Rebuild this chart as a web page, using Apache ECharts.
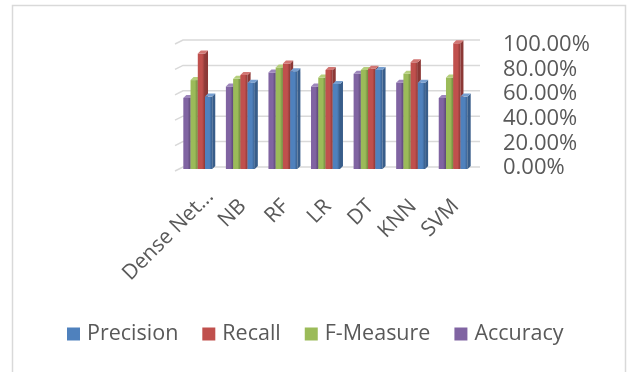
<!DOCTYPE html>
<html>
<head>
<meta charset="utf-8">
<script src="https://cdn.jsdelivr.net/npm/echarts@6/dist/echarts.min.js"></script>
<style>
  html, body { margin: 0; padding: 0; background: #fff; }
  #chart { width: 627px; height: 372px; }
</style>
</head>
<body>
<div id="chart"></div>
<script>
// Model scores per classifier
const categories = ['Dense Net...', 'NB', 'RF', 'LR', 'DT', 'KNN', 'SVM'];
const accuracy  = [0.56, 0.65, 0.76, 0.65, 0.75, 0.68, 0.56];
const fMeasure  = [0.70, 0.71, 0.80, 0.72, 0.78, 0.75, 0.72];
const recall    = [0.91, 0.74, 0.83, 0.78, 0.79, 0.84, 0.99];
const precision = [0.57, 0.68, 0.77, 0.67, 0.78, 0.68, 0.57];
const yTicks    = [0, 0.2, 0.4, 0.6, 0.8, 1.0];

const TEXT = '#595959';
const FONT = '"Open Sans", "Noto Sans", sans-serif';

// colour sets: front, side, top
const palette = {
  'Accuracy':  ['#8064a2', '#5c4776', '#9d86bb'],
  'F-Measure': ['#9bbb59', '#71893f', '#b5cf7d'],
  'Recall':    ['#c0504d', '#8c3836', '#d27673'],
  'Precision': ['#4f81bd', '#385d8a', '#779fd0']
};

// drawing order inside each group, left to right
const seriesDefs = [
  { name: 'Accuracy',  data: accuracy },
  { name: 'F-Measure', data: fMeasure },
  { name: 'Recall',    data: recall },
  { name: 'Precision', data: precision }
];

const DEPTH_X = 3, DEPTH_Y = 3;

function makeBarRenderer(slot, cols) {
  return function (params, api) {
    const cat = api.value(0);
    const val = api.value(1);
    const top = api.coord([cat, val]);
    const base = api.coord([cat, 0]);
    const band = api.size([1, 0])[0];
    const w = band * 0.17;
    const groupW = w * 4;
    const x = top[0] - groupW / 2 - DEPTH_X / 2 + slot * w;
    const yT = top[1], yB = base[1];
    const grad = new echarts.graphic.LinearGradient(0, 0, 1, 0, [
      { offset: 0, color: cols[0] },
      { offset: 0.6, color: cols[0] },
      { offset: 1, color: cols[1] }
    ]);
    return {
      type: 'group',
      children: [
        { type: 'rect', shape: { x: x, y: yT, width: w, height: yB - yT },
          style: { fill: grad } },
        { type: 'polygon', shape: { points: [[x + w, yT], [x + w + DEPTH_X, yT - DEPTH_Y], [x + w + DEPTH_X, yB - DEPTH_Y], [x + w, yB]] },
          style: { fill: cols[1] } },
        { type: 'polygon', shape: { points: [[x, yT], [x + DEPTH_X, yT - DEPTH_Y], [x + w + DEPTH_X, yT - DEPTH_Y], [x + w, yT]] },
          style: { fill: cols[2] } }
      ]
    };
  };
}

const barSeries = seriesDefs.map(function (s, i) {
  return {
    name: s.name,
    type: 'custom',
    xAxisIndex: 1,
    yAxisIndex: 1,
    itemStyle: { color: palette[s.name][0] },
    renderItem: makeBarRenderer(i, palette[s.name]),
    encode: { x: 0, y: 1 },
    data: s.data.map(function (v, k) { return [k, v]; }),
    z: 3 + i
  };
});

// back-wall gridlines with a short perspective slant on the left
const gridSeries = {
  type: 'custom',
  xAxisIndex: 0,
  yAxisIndex: 0,
  silent: true,
  renderItem: function (params, api) {
    const v = api.value(0);
    const p0 = api.coord([0, v]);
    const p1 = api.coord([1, v]);
    return {
      type: 'polyline',
      shape: { points: [[p0[0] - 8, p0[1] + 4], [p0[0], p0[1]], [p1[0], p1[1]]] },
      style: { stroke: '#d9d9d9', lineWidth: 1.5, fill: null }
    };
  },
  encode: { y: 0 },
  data: yTicks.map(function (t) { return [t]; }),
  z: 1
};

// slanted category labels, right end hanging just below each group
const ANG = Math.PI / 4;
const labelSeries = {
  type: 'custom',
  xAxisIndex: 1,
  yAxisIndex: 1,
  silent: true,
  renderItem: function (params, api) {
    const idx = api.value(0);
    const text = categories[idx];
    const p = api.coord([idx, 0]);
    // truncated names sit a little further along the slant
    const along = /\.\.\.$/.test(text) ? 14 : 0;
    const ax = p[0] + 1 + along * Math.cos(ANG);
    const ay = p[1] + 34 - along * Math.sin(ANG);
    return {
      type: 'text',
      x: ax, y: ay,
      rotation: ANG,
      style: {
        text: text, align: 'right', verticalAlign: 'middle',
        fontSize: 21, fontFamily: FONT, fill: TEXT
      }
    };
  },
  encode: { x: 0 },
  data: categories.map(function (c, i) { return [i]; }),
  clip: false,
  z: 2
};

const chart = echarts.init(document.getElementById('chart'), null, { renderer: 'canvas' });
chart.setOption({
  animation: false,
  backgroundColor: '#fff',
  textStyle: { fontFamily: FONT },
  graphic: [{
    type: 'rect',
    shape: { x: 12.5, y: 5.5, width: 613, height: 380 },
    style: { fill: null, stroke: '#d9d9d9', lineWidth: 1.5 },
    silent: true, z: 0
  }],
  grid: [
    { left: 183, right: 147, top: 40, bottom: 205 },
    { left: 178, right: 151, top: 42, bottom: 203 },
    { left: 183, right: 147, top: 45, bottom: 204 }
  ],
  xAxis: [
    { gridIndex: 0, type: 'value', min: 0, max: 1, show: false },
    {
      gridIndex: 1, type: 'category', data: categories,
      axisLine: { show: false }, axisTick: { show: false }, axisLabel: { show: false }
    },
    { gridIndex: 2, type: 'value', min: 0, max: 1, show: false }
  ],
  yAxis: [
    { gridIndex: 0, type: 'value', min: 0, max: 1, show: false },
    { gridIndex: 1, type: 'value', min: 0, max: 1, show: false },
    {
      gridIndex: 2, type: 'value', position: 'right', min: 0, max: 1, interval: 0.2,
      axisLine: { show: false }, axisTick: { show: false }, splitLine: { show: false },
      axisLabel: {
        margin: 23, fontSize: 22, color: TEXT, fontFamily: FONT,
        formatter: function (v) { return (v * 100).toFixed(2) + '%'; }
      }
    }
  ],
  legend: {
    data: ['Precision', 'Recall', 'F-Measure', 'Accuracy'],
    left: 62, top: 318,
    icon: 'rect', itemWidth: 13, itemHeight: 13, itemGap: 24,
    textStyle: { fontSize: 21.5, color: TEXT, fontFamily: FONT, padding: [0, 0, 0, 2] }
  },
  series: [gridSeries, labelSeries].concat(barSeries)
});
</script>
</body>
</html>
